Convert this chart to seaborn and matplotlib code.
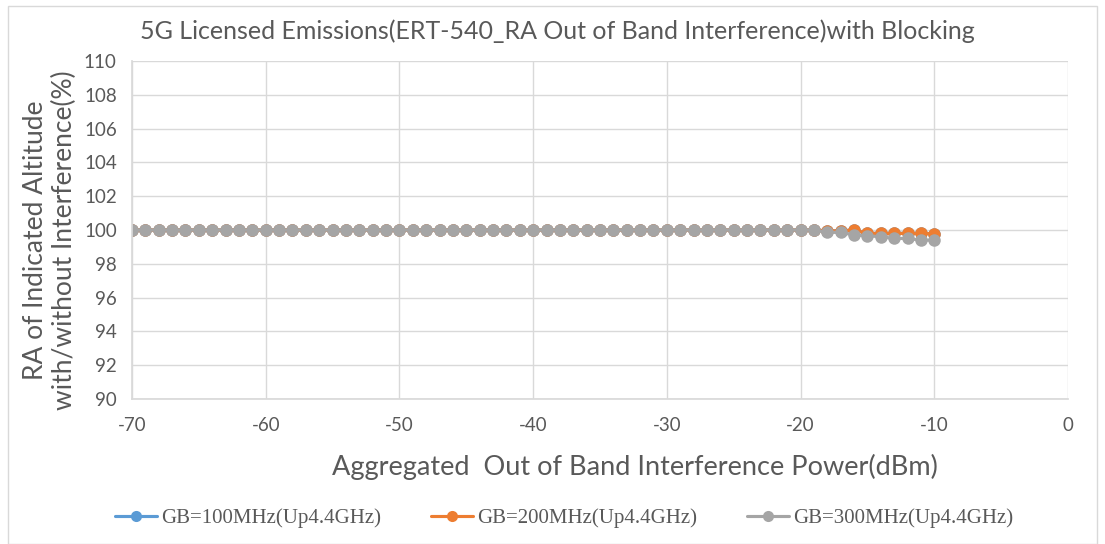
import numpy as np
import pandas as pd
import matplotlib
matplotlib.use("Agg")
import matplotlib.pyplot as plt
from matplotlib.lines import Line2D
import seaborn as sns

# x values: aggregated interference power (dBm)
power_dbm = list(range(-70, -9))

# RA ratio per guard band (%), flat at 100 until the last points
gb200 = [100.0] * 52 + [99.95, 99.95, 100.0, 99.8, 99.8, 99.8, 99.8, 99.8, 99.78]
gb100 = list(gb200)  # hidden behind the 200MHz series in the source chart
gb300 = [100.0] * 52 + [99.86, 99.86, 99.7, 99.66, 99.6, 99.5, 99.5, 99.4, 99.4]

series_names = ["GB=100MHz(Up4.4GHz)", "GB=200MHz(Up4.4GHz)", "GB=300MHz(Up4.4GHz)"]
colors = ["#5B9BD5", "#ED7D31", "#A5A5A5"]

df = pd.DataFrame({
    "power": power_dbm * 3,
    "ra": gb100 + gb200 + gb300,
    "series": np.repeat(series_names, len(power_dbm)),
})

sns.set_theme(style="white")
plt.rcParams["font.family"] = ["Lato", "DejaVu Sans"]
plt.rcParams["axes.unicode_minus"] = False

W, H = 1105, 544
fig = plt.figure(figsize=(W / 100, H / 100), dpi=100)
ax = fig.add_axes([132 / W, 1 - 399 / H, (1068 - 132) / W, (399 - 61) / H])

sns.lineplot(data=df, x="power", y="ra", hue="series", palette=colors,
             marker="o", markersize=9, markeredgewidth=0, linewidth=2.25,
             ax=ax, legend=False)

ax.set_xlim(-70, 0)
ax.set_ylim(90, 110)
ax.set_xticks(range(-70, 1, 10))
ax.set_yticks(range(90, 111, 2))
ax.grid(True, color="#D9D9D9", linewidth=1)
ax.set_axisbelow(True)
for s in ["top", "right"]:
    ax.spines[s].set_visible(False)
ax.spines["left"].set_color("#D9D9D9")
ax.spines["bottom"].set_color("#D9D9D9")
ax.tick_params(axis="x", labelsize=13.5, colors="#595959", length=0, pad=13)
ax.tick_params(axis="y", labelsize=13.5, colors="#595959", length=0, pad=11)
ax.set_xlabel("")
ax.set_ylabel("")

fig.text(635 / W, 1 - 467 / H, "Aggregated  Out of Band Interference Power(dBm)",
         ha="center", va="center", fontsize=19.5, color="#595959")
fig.text(50 / W, 1 - 240 / H, "RA of Indicated Altitude\nwith/without Interference(%)",
         ha="center", va="center", rotation=90, multialignment="center",
         fontsize=19, color="#595959", linespacing=1.15)
fig.text(557 / W, 1 - 31 / H, "5G Licensed Emissions(ERT-540_RA Out of Band Interference)with Blocking",
         ha="center", va="center", fontsize=18, color="#595959")

# legend
handles = [Line2D([], [], color=c, marker="o", markersize=8, linewidth=2.25, markeredgewidth=0)
           for c in colors]
fig.legend(handles, series_names, loc="center", bbox_to_anchor=(564 / W, 1 - 518 / H), ncol=3,
           frameon=False, prop={"family": "Liberation Serif", "size": 15},
           handlelength=2.0, columnspacing=2.4, handletextpad=0.2, labelcolor="#595959")

# chart area border
fig.patches.append(plt.Rectangle((8 / W, 0.0), 1 - 16 / W, 1 - 6 / H, transform=fig.transFigure,
                                 fill=False, edgecolor="#D9D9D9", linewidth=1))

fig.savefig("out.png", dpi=100)
